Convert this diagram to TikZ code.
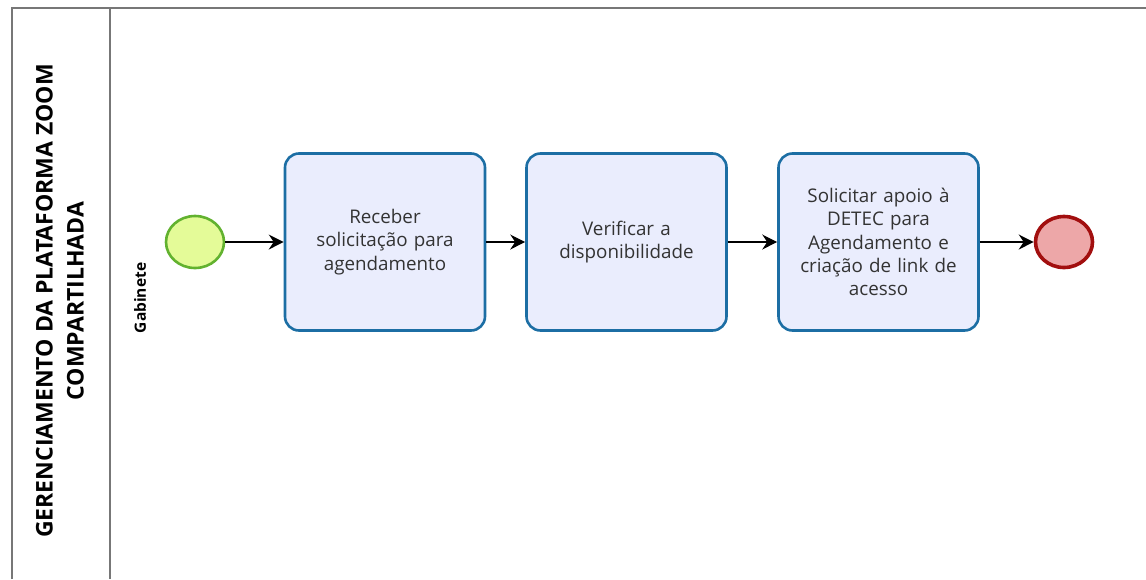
\documentclass[tikz,border=0pt]{standalone}
\usepackage{fontspec}
\setmainfont{Open Sans}
\usetikzlibrary{arrows.meta,shapes.geometric}
\definecolor{poolline}{HTML}{777777}
\definecolor{taskborder}{HTML}{1C6EA4}
\definecolor{taskfill}{HTML}{EAEDFD}
\definecolor{startborder}{HTML}{62B22F}
\definecolor{startfill}{HTML}{E4FB98}
\definecolor{endborder}{HTML}{A20F0F}
\definecolor{endfill}{HTML}{EDA7A8}
\definecolor{txt}{HTML}{333333}
\tikzset{
  tasknode/.style={draw=taskborder, fill=taskfill, line width=2.6pt, rounded corners=14pt,
    minimum width=200pt, minimum height=177pt, align=center, text=txt,
    font=\fontsize{18.8}{23.4}\selectfont, inner sep=0pt, text width=190pt},
  startev/.style={ellipse, draw=startborder, fill=startfill, line width=2.6pt,
    minimum width=58pt, minimum height=52pt, inner sep=0pt},
  endev/.style={ellipse, draw=endborder, fill=endfill, line width=3.6pt,
    minimum width=57pt, minimum height=51pt, inner sep=0pt},
  flow/.style={line width=1.3pt, -{Stealth[length=15pt,width=15pt,inset=5pt]}},
  poolborder/.style={draw=poolline, line width=1.8pt}
}
\begin{document}
\begin{tikzpicture}[x=1pt,y=-1pt]
\useasboundingbox (0,0) rectangle (1146,579);
% pool and lane lines
\draw[poolborder] (12,579) -- (12,8) -- (1146,8);
\draw[poolborder] (110,8) -- (110,579);
\node[rotate=90, align=center, font=\bfseries\fontsize{23}{31}\selectfont] (pool) at (60,301)
  {GERENCIAMENTO DA PLATAFORMA ZOOM\\COMPARTILHADA};
\node[rotate=90, font=\bfseries\fontsize{15.5}{17}\selectfont] (lane) at (140,298) {Gabinete};
% events and tasks
\node[startev] (start) at (195,242) {};
\node[tasknode] (t1) at (385,242) {Receber\\solicitação para\\agendamento};
\node[tasknode] (t2) at (626.5,242) {Verificar a\\disponibilidade};
\node[tasknode] (t3) at (878.5,242) {Solicitar apoio à\\DETEC para\\Agendamento e\\criação de link de\\acesso};
\node[endev] (end) at (1064,242) {};
% flows
\draw[flow] (start) -- (t1);
\draw[flow] (t1) -- (t2);
\draw[flow] (t2) -- (t3);
\draw[flow] (t3) -- (end);
\end{tikzpicture}
\end{document}
